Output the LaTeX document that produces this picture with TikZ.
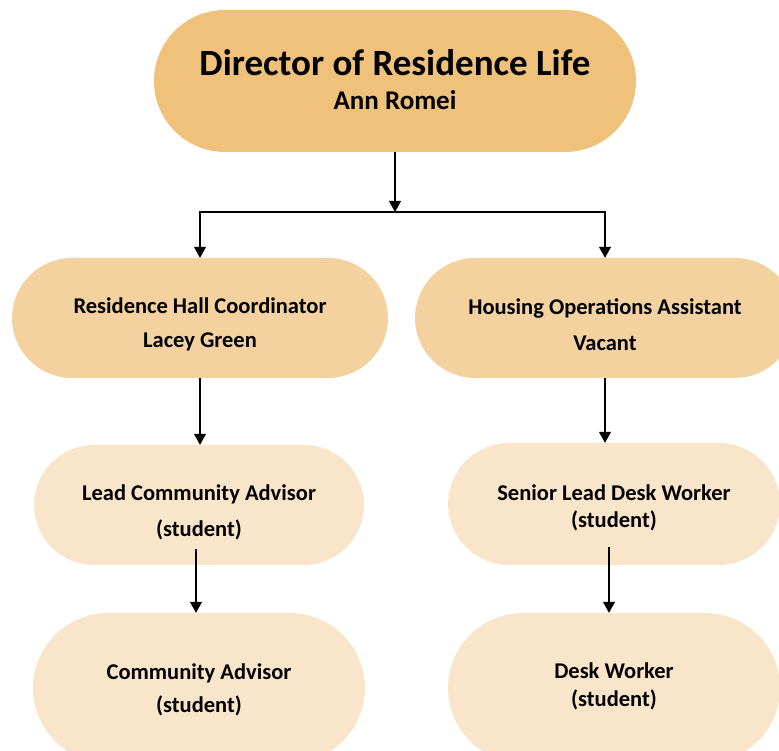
\documentclass[tikz,border=0pt]{standalone}
\usepackage{fontspec}
\setmainfont{Carlito}
\usetikzlibrary{shapes.misc,arrows.meta}
\definecolor{dirorange}{HTML}{F0C17A}
\definecolor{midorange}{HTML}{F4D29F}
\definecolor{paleorange}{HTML}{F9E5C9}
\tikzset{
  pill/.style={rounded rectangle, inner sep=0pt},
  txt/.style={align=center, inner sep=0pt,
    font=\bfseries\fontsize{22.5}{32}\selectfont},
  arr/.style={line width=1.1pt, -{Triangle[width=12pt,length=11pt]}},
}

\begin{document}
\begin{tikzpicture}[x=1pt,y=1pt]
\useasboundingbox (0,0) rectangle (779,751);
% top of the chart
\node[pill, fill=dirorange, minimum width=482pt, minimum height=142pt,
  label={[txt, yshift=1pt]center:{{\fontsize{37}{40}\selectfont Director of Residence Life}\\[2pt]
   {\fontsize{27}{30}\selectfont Ann Romei}}}] (dir) at (395,670) {};
% second row
\node[pill, fill=midorange, minimum width=376pt, minimum height=120pt,
  label={[txt, yshift=-6pt]center:{Residence Hall Coordinator\\[2pt] Lacey Green}}] (rhc) at (200,433) {};
\node[pill, fill=midorange, minimum width=380pt, minimum height=120pt,
  label={[txt, yshift=-7pt]center:{Housing Operations Assistant\\[4pt] Vacant}}] (hoa) at (605,433) {};
% third row
\node[pill, fill=paleorange, minimum width=330pt, minimum height=120pt,
  label={[txt, yshift=-7pt]center:{Lead Community Advisor\\[4pt] (student)}}] (lca) at (199,246) {};
\node[pill, fill=paleorange, minimum width=332pt, minimum height=122pt,
  label={[txt, yshift=-4pt]center:{Senior Lead Desk Worker\\[-5pt] (student)}}] (slw) at (614,247) {};
% bottom row
\node[pill, fill=paleorange, minimum width=332pt, minimum height=150pt,
  label={[txt, yshift=-2pt]center:{Community Advisor\\[1pt] (student)}}] (ca) at (199,63) {};
\node[pill, fill=paleorange, minimum width=332pt, minimum height=150pt,
  label={[txt, yshift=2pt]center:{Desk Worker\\[-4pt] (student)}}] (dw) at (614,63) {};
% connectors
\coordinate (bar) at (395,539);
\draw[arr] (dir.south) -- (bar);
\draw[arr] (bar) -| (rhc.north);
\draw[arr] (bar) -| (hoa.north);
\draw[arr] (rhc.south) -- (rhc.south |- lca.north);
\draw[arr] (hoa.south) -- (hoa.south |- slw.north);
\draw[arr] ([xshift=-3pt,yshift=16pt]lca.south) -- ([xshift=-3pt]ca.north);
\draw[arr] ([xshift=-5pt,yshift=18pt]slw.south) -- ([xshift=-5pt]dw.north);
\end{tikzpicture}
\end{document}
